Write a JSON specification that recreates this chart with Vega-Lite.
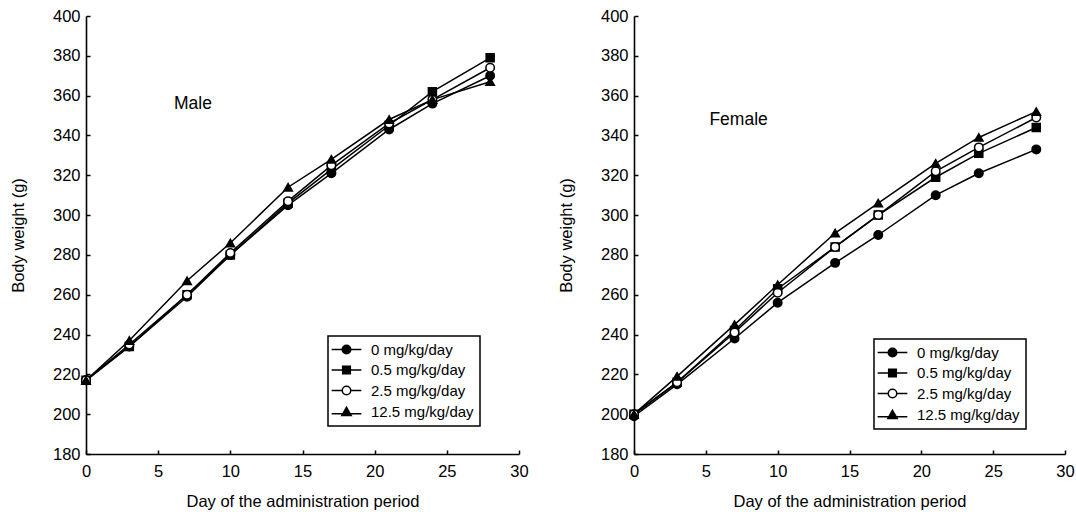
{
  "$schema": "https://vega.github.io/schema/vega-lite/v6.json",
  "usermeta": {"embedOptions": {"actions": false}},
  "padding": {"left": 10, "top": 8, "right": 0, "bottom": 0},
  "background": "white",
  "config": {
    "font": "Liberation Sans",
    "view": {"stroke": null},
    "axis": {
      "grid": false,
      "domainColor": "black",
      "domainWidth": 1.6,
      "tickColor": "black",
      "tickWidth": 1.5,
      "tickSize": -4,
      "labelPadding": 10,
      "labelFlush": false,
      "labelColor": "black",
      "labelFont": "Liberation Sans",
      "labelFontSize": 16.5,
      "titleFont": "Liberation Sans",
      "titleFontSize": 16.5,
      "titleFontWeight": "normal",
      "titleColor": "black"
    },
    "legend": {
      "orient": "none",
      "strokeColor": "black",
      "strokeWidth": 1.5,
      "padding": 6,
      "labelFont": "Liberation Sans",
      "labelFontSize": 15,
      "labelColor": "black",
      "symbolSize": 72,
      "symbolStrokeColor": "black",
      "symbolStrokeWidth": 1.5,
      "symbolOpacity": 1,
      "symbolOffset": 5,
      "labelOffset": 17,
      "rowPadding": 4.5
    }
  },
  "data": {
    "values": [
      {"sex": "Male", "dose": "0 mg/kg/day", "day": 0, "weight": 217},
      {"sex": "Male", "dose": "0 mg/kg/day", "day": 3, "weight": 234},
      {"sex": "Male", "dose": "0 mg/kg/day", "day": 7, "weight": 259},
      {"sex": "Male", "dose": "0 mg/kg/day", "day": 10, "weight": 280},
      {"sex": "Male", "dose": "0 mg/kg/day", "day": 14, "weight": 305},
      {"sex": "Male", "dose": "0 mg/kg/day", "day": 17, "weight": 321},
      {"sex": "Male", "dose": "0 mg/kg/day", "day": 21, "weight": 343},
      {"sex": "Male", "dose": "0 mg/kg/day", "day": 24, "weight": 356},
      {"sex": "Male", "dose": "0 mg/kg/day", "day": 28, "weight": 370},
      {"sex": "Male", "dose": "0.5 mg/kg/day", "day": 0, "weight": 217},
      {"sex": "Male", "dose": "0.5 mg/kg/day", "day": 3, "weight": 234},
      {"sex": "Male", "dose": "0.5 mg/kg/day", "day": 7, "weight": 260},
      {"sex": "Male", "dose": "0.5 mg/kg/day", "day": 10, "weight": 280},
      {"sex": "Male", "dose": "0.5 mg/kg/day", "day": 14, "weight": 306},
      {"sex": "Male", "dose": "0.5 mg/kg/day", "day": 17, "weight": 323},
      {"sex": "Male", "dose": "0.5 mg/kg/day", "day": 21, "weight": 345},
      {"sex": "Male", "dose": "0.5 mg/kg/day", "day": 24, "weight": 362},
      {"sex": "Male", "dose": "0.5 mg/kg/day", "day": 28, "weight": 379},
      {"sex": "Male", "dose": "2.5 mg/kg/day", "day": 0, "weight": 217},
      {"sex": "Male", "dose": "2.5 mg/kg/day", "day": 3, "weight": 235},
      {"sex": "Male", "dose": "2.5 mg/kg/day", "day": 7, "weight": 260},
      {"sex": "Male", "dose": "2.5 mg/kg/day", "day": 10, "weight": 281},
      {"sex": "Male", "dose": "2.5 mg/kg/day", "day": 14, "weight": 307},
      {"sex": "Male", "dose": "2.5 mg/kg/day", "day": 17, "weight": 325},
      {"sex": "Male", "dose": "2.5 mg/kg/day", "day": 21, "weight": 346},
      {"sex": "Male", "dose": "2.5 mg/kg/day", "day": 24, "weight": 358},
      {"sex": "Male", "dose": "2.5 mg/kg/day", "day": 28, "weight": 374},
      {"sex": "Male", "dose": "12.5 mg/kg/day", "day": 0, "weight": 217},
      {"sex": "Male", "dose": "12.5 mg/kg/day", "day": 3, "weight": 237},
      {"sex": "Male", "dose": "12.5 mg/kg/day", "day": 7, "weight": 267},
      {"sex": "Male", "dose": "12.5 mg/kg/day", "day": 10, "weight": 286},
      {"sex": "Male", "dose": "12.5 mg/kg/day", "day": 14, "weight": 314},
      {"sex": "Male", "dose": "12.5 mg/kg/day", "day": 17, "weight": 328},
      {"sex": "Male", "dose": "12.5 mg/kg/day", "day": 21, "weight": 348},
      {"sex": "Male", "dose": "12.5 mg/kg/day", "day": 24, "weight": 358},
      {"sex": "Male", "dose": "12.5 mg/kg/day", "day": 28, "weight": 367},
      {"sex": "Female", "dose": "0 mg/kg/day", "day": 0, "weight": 199},
      {"sex": "Female", "dose": "0 mg/kg/day", "day": 3, "weight": 215},
      {"sex": "Female", "dose": "0 mg/kg/day", "day": 7, "weight": 238},
      {"sex": "Female", "dose": "0 mg/kg/day", "day": 10, "weight": 256},
      {"sex": "Female", "dose": "0 mg/kg/day", "day": 14, "weight": 276},
      {"sex": "Female", "dose": "0 mg/kg/day", "day": 17, "weight": 290},
      {"sex": "Female", "dose": "0 mg/kg/day", "day": 21, "weight": 310},
      {"sex": "Female", "dose": "0 mg/kg/day", "day": 24, "weight": 321},
      {"sex": "Female", "dose": "0 mg/kg/day", "day": 28, "weight": 333},
      {"sex": "Female", "dose": "0.5 mg/kg/day", "day": 0, "weight": 200},
      {"sex": "Female", "dose": "0.5 mg/kg/day", "day": 3, "weight": 216},
      {"sex": "Female", "dose": "0.5 mg/kg/day", "day": 7, "weight": 242},
      {"sex": "Female", "dose": "0.5 mg/kg/day", "day": 10, "weight": 263},
      {"sex": "Female", "dose": "0.5 mg/kg/day", "day": 14, "weight": 284},
      {"sex": "Female", "dose": "0.5 mg/kg/day", "day": 17, "weight": 300},
      {"sex": "Female", "dose": "0.5 mg/kg/day", "day": 21, "weight": 319},
      {"sex": "Female", "dose": "0.5 mg/kg/day", "day": 24, "weight": 331},
      {"sex": "Female", "dose": "0.5 mg/kg/day", "day": 28, "weight": 344},
      {"sex": "Female", "dose": "2.5 mg/kg/day", "day": 0, "weight": 200},
      {"sex": "Female", "dose": "2.5 mg/kg/day", "day": 3, "weight": 216},
      {"sex": "Female", "dose": "2.5 mg/kg/day", "day": 7, "weight": 241},
      {"sex": "Female", "dose": "2.5 mg/kg/day", "day": 10, "weight": 261},
      {"sex": "Female", "dose": "2.5 mg/kg/day", "day": 14, "weight": 284},
      {"sex": "Female", "dose": "2.5 mg/kg/day", "day": 17, "weight": 300},
      {"sex": "Female", "dose": "2.5 mg/kg/day", "day": 21, "weight": 322},
      {"sex": "Female", "dose": "2.5 mg/kg/day", "day": 24, "weight": 334},
      {"sex": "Female", "dose": "2.5 mg/kg/day", "day": 28, "weight": 349},
      {"sex": "Female", "dose": "12.5 mg/kg/day", "day": 0, "weight": 200},
      {"sex": "Female", "dose": "12.5 mg/kg/day", "day": 3, "weight": 219},
      {"sex": "Female", "dose": "12.5 mg/kg/day", "day": 7, "weight": 245},
      {"sex": "Female", "dose": "12.5 mg/kg/day", "day": 10, "weight": 265},
      {"sex": "Female", "dose": "12.5 mg/kg/day", "day": 14, "weight": 291},
      {"sex": "Female", "dose": "12.5 mg/kg/day", "day": 17, "weight": 306},
      {"sex": "Female", "dose": "12.5 mg/kg/day", "day": 21, "weight": 326},
      {"sex": "Female", "dose": "12.5 mg/kg/day", "day": 24, "weight": 339},
      {"sex": "Female", "dose": "12.5 mg/kg/day", "day": 28, "weight": 352}
    ]
  },
  "spacing": 29,
  "resolve": {"legend": {"fill": "independent", "shape": "independent"}, "scale": {"x": "independent", "y": "independent"}},
  "hconcat": [
    {
      "width": 433,
      "height": 438,
      "transform": [{"filter": "datum.sex == 'Male'"}],
      "encoding": {
        "x": {"field": "day", "type": "quantitative", "title": "Day of the administration period",
              "scale": {"domain": [0, 30], "nice": false},
              "axis": {"values": [0, 5, 10, 15, 20, 25, 30], "labelPadding": 13, "titlePadding": 14}},
        "y": {"field": "weight", "type": "quantitative", "title": "Body weight (g)",
              "scale": {"domain": [180, 400], "nice": false, "zero": false},
              "axis": {"values": [180, 200, 220, 240, 260, 280, 300, 320, 340, 360, 380, 400], "titlePadding": 26}}
      },
      "layer": [
        {"mark": {"type": "line", "color": "black", "strokeWidth": 1.5}, "encoding": {"detail": {"field": "dose"}}},
        {"transform": [{"filter": "datum.dose == '0 mg/kg/day'"}],
         "mark": {"type": "point", "shape": "circle", "size": 72, "fill": "black", "stroke": "black", "strokeWidth": 1.5, "opacity": 1}},
        {"transform": [{"filter": "datum.dose == '0.5 mg/kg/day'"}],
         "mark": {"type": "point", "shape": "square", "size": 64, "fill": "black", "stroke": "black", "strokeWidth": 1.5, "opacity": 1}},
        {"transform": [{"filter": "datum.dose == '2.5 mg/kg/day'"}],
         "mark": {"type": "point", "shape": "circle", "size": 72, "fill": "white", "stroke": "black", "strokeWidth": 1.5, "opacity": 1}},
        {"transform": [{"filter": "datum.dose == '12.5 mg/kg/day'"}],
         "mark": {"type": "point", "shape": "triangle-up", "size": 72, "fill": "black", "stroke": "black", "strokeWidth": 1.5, "opacity": 1}},
        {
          "transform": [{"filter": "false"}],
          "mark": {"type": "point", "stroke": "black", "strokeWidth": 1.5, "opacity": 1},
          "encoding": {
            "stroke": {"value": "black"},
            "shape": {"field": "dose", "type": "nominal",
              "scale": {"domain": ["0 mg/kg/day", "0.5 mg/kg/day", "2.5 mg/kg/day", "12.5 mg/kg/day"],
                        "range": ["M-3.5,0H3.5M1,0A1,1 0 1 1 -1,0A1,1 0 1 1 1,0Z", "M-3.5,0H3.5M-0.9,-0.9H0.9V0.9H-0.9Z", "M-3.5,0H-1M1,0H3.5M1,0A1,1 0 1 1 -1,0A1,1 0 1 1 1,0Z", "M-3.5,0.4H3.5M0,-1.1L1.1,0.8H-1.1Z"]},
              "legend": {"title": null, "legendX": 242, "legendY": 320,
                "encode": {"symbols": {"update": {"stroke": {"value": "black"}, "strokeWidth": {"value": 1.5}}}}}},
            "fill": {"field": "dose", "type": "nominal",
              "scale": {"domain": ["0 mg/kg/day", "0.5 mg/kg/day", "2.5 mg/kg/day", "12.5 mg/kg/day"], "range": ["black", "black", "white", "black"]},
              "legend": {"title": null, "legendX": 242, "legendY": 320,
                "encode": {"symbols": {"update": {"stroke": {"value": "black"}, "strokeWidth": {"value": 1.5}}}}}}
          }
        },
        {
          "data": {"values": [{"label": "Male", "day": 6.1, "weight": 356}]},
          "mark": {"type": "text", "align": "left", "baseline": "middle", "fontSize": 17.5, "font": "Liberation Sans", "color": "black"},
          "encoding": {"text": {"field": "label"}}
        }
      ]
    },
    {
      "width": 431,
      "height": 438,
      "transform": [{"filter": "datum.sex == 'Female'"}],
      "encoding": {
        "x": {"field": "day", "type": "quantitative", "title": "Day of the administration period",
              "scale": {"domain": [0, 30], "nice": false},
              "axis": {"values": [0, 5, 10, 15, 20, 25, 30], "labelPadding": 13, "titlePadding": 14}},
        "y": {"field": "weight", "type": "quantitative", "title": "Body weight (g)",
              "scale": {"domain": [180, 400], "nice": false, "zero": false},
              "axis": {"values": [180, 200, 220, 240, 260, 280, 300, 320, 340, 360, 380, 400], "titlePadding": 26}}
      },
      "layer": [
        {"mark": {"type": "line", "color": "black", "strokeWidth": 1.5}, "encoding": {"detail": {"field": "dose"}}},
        {"transform": [{"filter": "datum.dose == '0 mg/kg/day'"}],
         "mark": {"type": "point", "shape": "circle", "size": 72, "fill": "black", "stroke": "black", "strokeWidth": 1.5, "opacity": 1}},
        {"transform": [{"filter": "datum.dose == '0.5 mg/kg/day'"}],
         "mark": {"type": "point", "shape": "square", "size": 64, "fill": "black", "stroke": "black", "strokeWidth": 1.5, "opacity": 1}},
        {"transform": [{"filter": "datum.dose == '2.5 mg/kg/day'"}],
         "mark": {"type": "point", "shape": "circle", "size": 72, "fill": "white", "stroke": "black", "strokeWidth": 1.5, "opacity": 1}},
        {"transform": [{"filter": "datum.dose == '12.5 mg/kg/day'"}],
         "mark": {"type": "point", "shape": "triangle-up", "size": 72, "fill": "black", "stroke": "black", "strokeWidth": 1.5, "opacity": 1}},
        {
          "transform": [{"filter": "false"}],
          "mark": {"type": "point", "stroke": "black", "strokeWidth": 1.5, "opacity": 1},
          "encoding": {
            "stroke": {"value": "black"},
            "shape": {"field": "dose", "type": "nominal",
              "scale": {"domain": ["0 mg/kg/day", "0.5 mg/kg/day", "2.5 mg/kg/day", "12.5 mg/kg/day"],
                        "range": ["M-3.5,0H3.5M1,0A1,1 0 1 1 -1,0A1,1 0 1 1 1,0Z", "M-3.5,0H3.5M-0.9,-0.9H0.9V0.9H-0.9Z", "M-3.5,0H-1M1,0H3.5M1,0A1,1 0 1 1 -1,0A1,1 0 1 1 1,0Z", "M-3.5,0.4H3.5M0,-1.1L1.1,0.8H-1.1Z"]},
              "legend": {"title": null, "legendX": 240, "legendY": 323,
                "encode": {"symbols": {"update": {"stroke": {"value": "black"}, "strokeWidth": {"value": 1.5}}}}}},
            "fill": {"field": "dose", "type": "nominal",
              "scale": {"domain": ["0 mg/kg/day", "0.5 mg/kg/day", "2.5 mg/kg/day", "12.5 mg/kg/day"], "range": ["black", "black", "white", "black"]},
              "legend": {"title": null, "legendX": 240, "legendY": 323,
                "encode": {"symbols": {"update": {"stroke": {"value": "black"}, "strokeWidth": {"value": 1.5}}}}}}
          }
        },
        {
          "data": {"values": [{"label": "Female", "day": 5.25, "weight": 348}]},
          "mark": {"type": "text", "align": "left", "baseline": "middle", "fontSize": 17.5, "font": "Liberation Sans", "color": "black"},
          "encoding": {"text": {"field": "label"}}
        }
      ]
    }
  ]
}
